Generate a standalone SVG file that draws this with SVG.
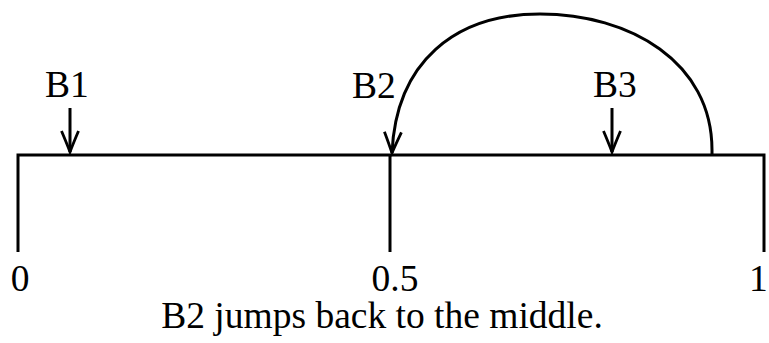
<svg xmlns="http://www.w3.org/2000/svg" width="769" height="343" viewBox="0 0 769 343">
<style>
.ln{fill:none;stroke:#000;stroke-width:3;stroke-linejoin:miter;stroke-linecap:butt}
.t{font-family:"Liberation Serif","Times New Roman",serif;font-size:37.5px;fill:#000}
</style>
<defs>
<marker id="ah" markerUnits="userSpaceOnUse" markerWidth="30" markerHeight="24" refX="0" refY="0" viewBox="-24 -12 30 24" orient="auto" overflow="visible">
<path d="M -21 -8.5 Q -8 -3 0 0 Q -8 3 -21 8.5" fill="none" stroke="#000" stroke-width="2.8"/>
</marker>
</defs>
<g id="axis">
<path class="ln" d="M 18 252 L 18 155 L 764 155 L 764 252"/>
<path class="ln" d="M 390 155 L 390 252"/>
</g>
<g id="tick-labels">
<text class="t" x="20" y="291" text-anchor="middle">0</text>
<text class="t" x="395" y="291" text-anchor="middle">0.5</text>
<text class="t" x="749" y="291">1</text>
</g>
<g id="B1">
<text class="t" x="67" y="97" text-anchor="middle">B1</text>
</g>
<g id="B2">
<text class="t" x="374" y="98" text-anchor="middle">B2</text>
</g>
<g id="B3">
<text class="t" x="615" y="97" text-anchor="middle">B3</text>
</g>
<g id="connectors">
<path class="ln" d="M 70 108 L 70 152" marker-end="url(#ah)"/>
<path class="ln" d="M 612 108 L 612 152" marker-end="url(#ah)"/>
<path class="ln" d="M 712 156 L 712 150 C 712 62 630 14 540 14 C 455 14 396 62 392 153" marker-end="url(#ah)"/>
</g>
<g id="caption">
<text class="t" x="382" y="328" text-anchor="middle">B2 jumps back to the middle.</text>
</g>
</svg>
